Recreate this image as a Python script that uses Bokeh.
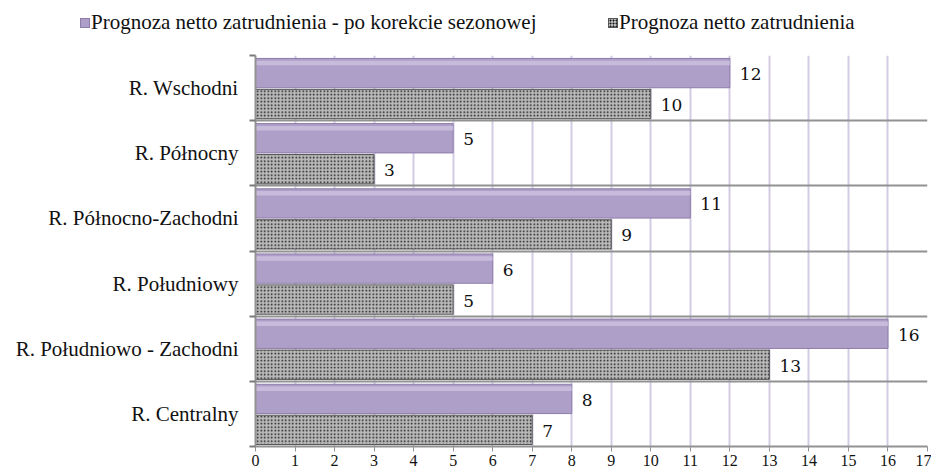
from bokeh.plotting import figure
from bokeh.layouts import column
from bokeh.models import ColumnDataSource, FixedTicker, LabelSet, LinearAxis, Div
from bokeh.core.properties import value
from bokeh.embed import file_html
from bokeh.resources import INLINE

regions = ["R. Wschodni", "R. Północny", "R. Północno-Zachodni", "R. Południowy",
           "R. Południowo - Zachodni", "R. Centralny"]
adjusted = [12, 5, 11, 6, 16, 8]
raw = [10, 3, 9, 5, 13, 7]
series_names = ["Prognoza netto zatrudnienia - po korekcie sezonowej",
                "Prognoza netto zatrudnienia"]
x_ticks = list(range(0, 18))

n = len(regions)
centers = [n - 1 - i + 0.5 for i in range(n)]
bounds = list(range(0, n + 1))
src_a = ColumnDataSource(dict(y=[c + 0.23 for c in centers], x=adjusted,
                              lbl=[str(v) for v in adjusted]))
src_hl = ColumnDataSource(dict(y=[c + 0.385 for c in centers], x=adjusted))
src_r = ColumnDataSource(dict(y=[c - 0.245 for c in centers], x=raw,
                              lbl=[str(v) for v in raw]))

A_STYLE = dict(fill_color="#ae9fc8", line_color="#8d7caa", line_width=1)
R_STYLE = dict(fill_color="#b9b9b9", line_color="#555555", line_width=1,
               hatch_pattern="dot", hatch_color="#161616", hatch_scale=3.5, hatch_weight=1.9)
SERIF = "Liberation Serif"

p = figure(width=931, height=412, x_range=(0, 17), y_range=(0, n),
           output_backend="svg", toolbar_location=None, y_axis_location=None)
p.frame_width = 672
p.frame_height = 391
p.min_border_left = 255
p.min_border_right = 4
p.min_border_top = 1
p.min_border_bottom = 20
p.outline_line_color = None
p.background_fill_color = "white"
p.border_fill_color = "white"

# grids
p.xgrid.ticker = FixedTicker(ticks=x_ticks)
p.xgrid.grid_line_color = "#d3cae3"
p.xgrid.grid_line_width = 2
p.ygrid.ticker = FixedTicker(ticks=bounds)
p.ygrid.grid_line_color = "#929292"
p.ygrid.grid_line_width = 2

p.hbar(y="y", right="x", left=0, height=0.45, source=src_a, **A_STYLE)
p.hbar(y="y", right="x", left=0, height=0.07, source=src_hl,
       fill_color="#d2c8e2", line_color=None, fill_alpha=0.7)
p.hbar(y="y", right="x", left=0, height=0.45, source=src_r, **R_STYLE)

for s in (src_a, src_r):
    p.add_layout(LabelSet(x="x", y="y", text="lbl", source=s, x_offset=10, y_offset=-1,
                          text_baseline="middle", text_font=value("DejaVu Serif"),
                          text_font_size="17px", text_color="#111111"))

# x axis
xa = p.xaxis[0]
xa.ticker = FixedTicker(ticks=x_ticks)
xa.axis_line_color = "#929292"
xa.axis_line_width = 2
xa.major_tick_line_color = "#929292"
xa.major_tick_out = 5
xa.major_tick_in = 0
xa.minor_tick_line_color = None
xa.major_label_text_font = SERIF
xa.major_label_text_font_size = "16px"
xa.major_label_text_color = "#111111"
xa.major_label_standoff = 3

# y axis: boundary ticks (closest to frame)
yb = LinearAxis(ticker=FixedTicker(ticks=bounds, minor_ticks=[]),
                major_label_overrides={b: "" for b in bounds},
                major_label_text_font_size="1px", major_label_standoff=0,
                axis_line_color="#929292", axis_line_width=2,
                major_tick_line_color="#7a7a7a", major_tick_line_width=2,
                major_tick_out=6, major_tick_in=0,
                minor_tick_line_color=None)
p.add_layout(yb, "left")

# y axis: category labels
ya = LinearAxis(ticker=FixedTicker(ticks=centers, minor_ticks=[]),
                major_label_overrides={c: r for c, r in zip(centers, regions)},
                axis_line_color=None, major_tick_line_color=None, minor_tick_line_color=None,
                major_tick_out=0, major_label_standoff=11,
                major_label_text_font=SERIF, major_label_text_font_size="21px",
                major_label_text_color="#111111")
p.add_layout(ya, "left")

# legend strip (HTML text)
swatch_a = ("display:inline-block;width:10px;height:10px;box-sizing:border-box;"
            "background:#ae9fc8;border:1px solid #8d7caa;margin-right:1px;vertical-align:1px")
swatch_r = ("display:inline-block;width:10px;height:10px;box-sizing:border-box;"
            "background-color:#b9b9b9;background-image:radial-gradient(#161616 0.9px, transparent 1.1px);"
            "background-size:3px 3px;border:1px solid #555555;margin-right:1px;vertical-align:1px")
item = ("position:absolute;top:11px;white-space:nowrap;line-height:22px;"
        "font-family:'Liberation Serif';font-size:21px;color:#111111")
legend_html = (
    '<div style="position:relative;width:931px;height:54px;">'
    f'<span style="{item};left:80px"><span style="{swatch_a}"></span>{series_names[0]}</span>'
    f'<span style="{item};left:608px"><span style="{swatch_r}"></span>{series_names[1]}</span>'
    '</div>'
)
lg = Div(text=legend_html, width=931, height=54, margin=0)

layout = column(lg, p, spacing=0)
open("out.html", "w").write(file_html(layout, INLINE))
